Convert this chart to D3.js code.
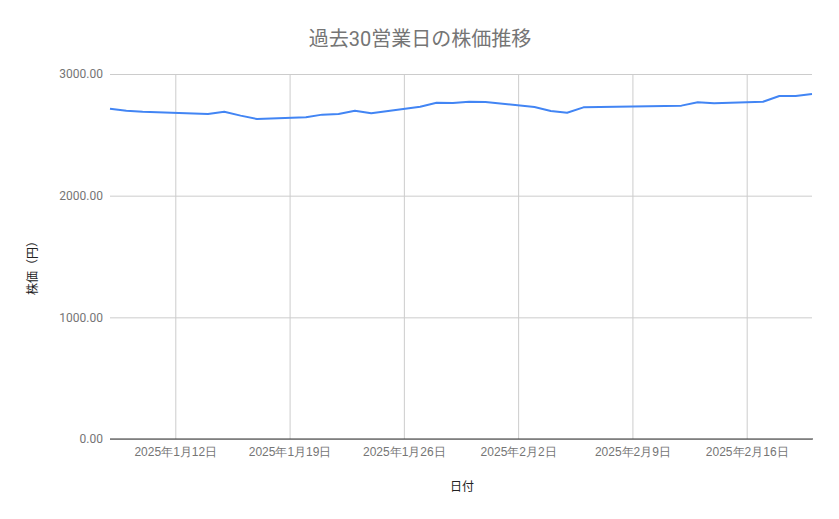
<!DOCTYPE html>
<html>
<head>
<meta charset="utf-8">
<script src="https://cdn.jsdelivr.net/npm/d3@7"></script>
<style>
  html, body { margin: 0; padding: 0; background: #fff; }
  svg { display: block; font-family: Roboto, "Noto Sans CJK JP", sans-serif; }
</style>
</head>
<body>
<div id="chart"></div>
<script>
// 30 business days (Jan 13 and Feb 11 are holidays)
const dates = [
  '2025-01-08', '2025-01-09', '2025-01-10', '2025-01-14', '2025-01-15',
  '2025-01-16', '2025-01-17', '2025-01-20', '2025-01-21', '2025-01-22',
  '2025-01-23', '2025-01-24', '2025-01-27', '2025-01-28', '2025-01-29',
  '2025-01-30', '2025-01-31', '2025-02-03', '2025-02-04', '2025-02-05',
  '2025-02-06', '2025-02-07', '2025-02-10', '2025-02-12', '2025-02-13',
  '2025-02-14', '2025-02-17', '2025-02-18', '2025-02-19', '2025-02-20',
]
const prices = [
  2715, 2698, 2690, 2671, 2690,
  2658, 2630, 2644, 2666, 2672,
  2698, 2677, 2731, 2764, 2761,
  2772, 2769, 2729, 2696, 2682,
  2726, 2729, 2734, 2740, 2767,
  2759, 2772, 2819, 2819, 2836,
]
const yTicks = [0, 1000, 2000, 3000]

const width = 839
const height = 519
const margin = { top: 74, right: 27, bottom: 80, left: 110 }

const parse = d3.timeParse('%Y-%m-%d')
const data = dates.map((d, i) => ({ date: parse(d), value: prices[i] }))

const svg = d3.select('#chart').append('svg')
  .attr('width', width)
  .attr('height', height)

const x = d3.scaleTime()
  .domain(d3.extent(data, d => d.date))
  .range([margin.left, width - margin.right])

const y = d3.scaleLinear()
  .domain([0, 3000])
  .range([height - margin.bottom, margin.top])

// title
svg.append('text')
  .attr('x', 420)
  .attr('y', 46)
  .attr('text-anchor', 'middle')
  .attr('fill', '#757575')
  .style('font-size', '20px')
  .text('過去30営業日の株価推移')

// horizontal grid + y labels
const yAxis = svg.append('g')
  .attr('transform', `translate(${margin.left},0)`)
  .call(d3.axisLeft(y)
    .tickValues(yTicks)
    .tickSize(-(width - margin.left - margin.right))
    .tickPadding(7)
    .tickFormat(d3.format('.2f')))
yAxis.select('.domain').remove()
yAxis.selectAll('line').attr('stroke', '#cccccc')
yAxis.selectAll('text')
  .attr('fill', '#757575')
  .style('font-size', '12px')
  .style('font-family', 'Roboto, sans-serif')

// vertical grid + x labels
const fmtDate = d => `${d.getFullYear()}年${d.getMonth() + 1}月${d.getDate()}日`
const xAxis = svg.append('g')
  .attr('transform', `translate(0,${height - margin.bottom})`)
  .call(d3.axisBottom(x)
    .ticks(d3.timeWeek.every(1))
    .tickSize(-(height - margin.top - margin.bottom))
    .tickPadding(8)
    .tickFormat(fmtDate))
xAxis.select('.domain').remove()
xAxis.selectAll('line').attr('stroke', '#cccccc')
xAxis.selectAll('text')
  .attr('fill', '#757575')
  .style('font-size', '12px')

// baseline
svg.append('line')
  .attr('x1', margin.left)
  .attr('x2', width - margin.right + 1)
  .attr('y1', y(0))
  .attr('y2', y(0))
  .attr('stroke', '#333333')
  .attr('stroke-width', 1)

// the price line
const line = d3.line()
  .x(d => x(d.date))
  .y(d => y(d.value))

svg.append('path')
  .datum(data)
  .attr('d', line)
  .attr('fill', 'none')
  .attr('stroke', '#4285f4')
  .attr('stroke-width', 2)
  .attr('stroke-linejoin', 'round')

// axis titles
svg.append('text')
  .attr('x', 462)
  .attr('y', 491)
  .attr('text-anchor', 'middle')
  .attr('fill', '#222222')
  .style('font-size', '12px')
  .text('日付')

svg.append('text')
  .attr('transform', 'translate(37,265) rotate(-90)')
  .attr('text-anchor', 'middle')
  .attr('fill', '#222222')
  .style('font-size', '12px')
  .text('株価（円）')
</script>
</body>
</html>
